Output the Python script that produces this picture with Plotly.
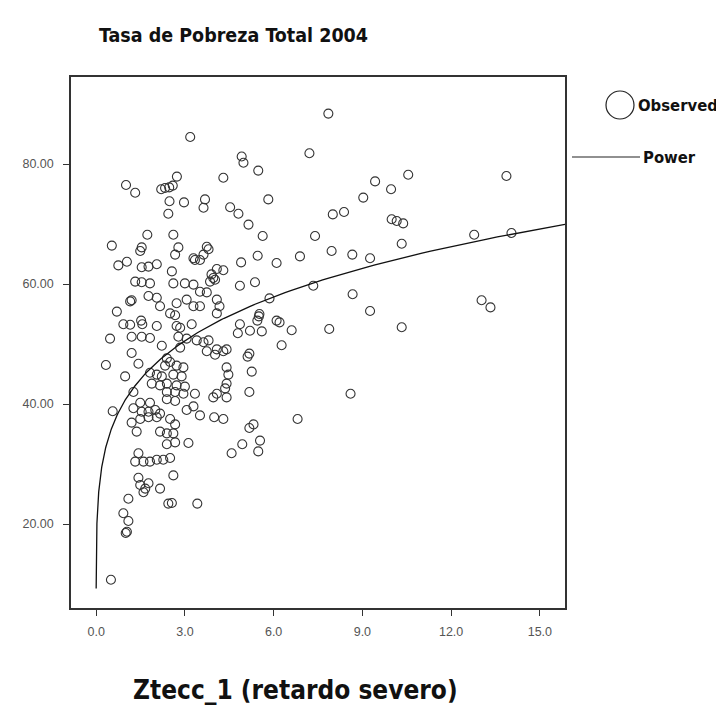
import plotly.graph_objects as go
import numpy as np

# Observed values: (Ztecc_1, Tasa de Pobreza Total 2004)
obs_x = [7.85, 3.18, 7.21, 4.92, 4.98, 5.48, 4.30, 2.73, 13.87, 10.55, 9.43, 9.97, 9.03, 5.82,
         3.68, 3.63, 2.97, 4.53, 4.81, 5.15, 8.00, 8.38, 9.99, 10.16, 10.38, 10.33, 12.78, 14.04,
         7.40, 5.63, 6.89, 6.10, 5.46, 4.90, 7.96, 8.66, 9.26, 7.34, 8.67, 9.26, 10.33, 7.88,
         13.03, 13.33, 8.60, 6.81, 6.27, 6.61, 6.20, 6.10, 5.50, 5.52, 5.45, 5.60, 5.20, 4.79,
         4.86, 5.26, 5.18, 5.12, 5.18, 5.86, 5.37, 4.86, 5.18, 5.32, 4.94, 4.58, 5.48, 5.54,
         3.99, 4.30, 3.51, 3.12, 3.42, 2.44, 2.56, 2.61, 2.16, 1.09, 0.92, 1.09, 1.04, 1.00,
         0.50, 0.56, 0.33, 0.47, 0.70, 0.53, 1.01, 1.32,
         2.20, 2.33, 2.47, 2.59, 2.48, 2.44, 1.73, 2.61, 1.54, 1.49, 2.78, 2.67, 3.74, 3.80,
         3.63, 3.29, 3.34, 3.51, 0.75, 1.04, 1.54, 1.77, 2.05, 2.56, 4.08, 4.30, 3.90, 3.96,
         1.32, 1.54, 1.82, 2.61, 3.00, 3.29, 3.85, 4.02, 3.51, 3.74, 1.77, 2.05, 1.15, 1.20,
         2.16, 2.72, 3.06, 4.08, 4.17, 3.29, 3.51, 2.50, 2.67, 4.08, 1.52, 1.56, 0.92, 1.15,
         2.05, 2.72, 2.84, 3.23, 1.20, 1.54, 1.82, 2.78, 3.06, 3.40, 3.63, 3.80, 2.22, 2.84,
         4.08, 4.30, 4.41, 3.74, 4.02, 1.20, 1.43, 2.39, 2.50, 2.33, 2.72, 2.95, 4.41, 4.47,
         0.98, 1.82, 2.05, 2.22, 2.61, 2.89, 1.88, 2.16, 2.39, 2.72, 3.00, 4.41, 4.36, 1.26,
         2.39, 2.67, 2.95, 3.34, 4.08, 4.41, 3.96, 1.49, 1.82, 2.39, 2.67, 1.26, 1.54, 1.77,
         2.00, 2.16, 3.06, 3.29, 1.20, 1.49, 1.77, 2.05, 2.50, 2.67, 1.37, 2.16, 2.39, 2.61,
         2.39, 2.67, 1.43, 1.60, 1.82, 2.05, 2.27, 2.50, 1.32, 1.43, 1.49, 1.66, 1.77, 1.60]
obs_y = [88.4, 84.5, 81.8, 81.25, 80.2, 78.9, 77.7, 77.9, 78.0, 78.2, 77.1, 75.8, 74.4, 74.1,
         74.1, 72.7, 73.6, 72.8, 71.7, 69.9, 71.6, 72.0, 70.8, 70.5, 70.1, 66.7, 68.2, 68.5,
         68.0, 68.0, 64.6, 63.5, 64.7, 63.6, 65.5, 64.9, 64.3, 59.7, 58.3, 55.5, 52.8, 52.5,
         57.3, 56.1, 41.7, 37.5, 49.8, 52.3, 53.6, 53.9, 54.6, 55.0, 53.9, 52.1, 52.2, 51.8,
         53.3, 45.4, 42.0, 47.9, 48.4, 57.6, 60.3, 59.7, 36.0, 36.6, 33.3, 31.8, 32.1, 33.9,
         37.8, 37.5, 38.1, 33.5, 23.4, 23.4, 23.5, 28.1, 25.9, 24.2, 21.8, 20.5, 18.7, 18.5,
         10.7, 38.8, 46.5, 50.9, 55.4, 66.4, 76.5, 75.2,
         75.8, 76.0, 76.1, 76.4, 73.8, 71.7, 68.2, 68.2, 66.1, 65.5, 66.1, 64.9, 66.2, 65.8,
         64.9, 64.3, 64.0, 64.0, 63.1, 63.7, 62.8, 62.9, 63.3, 62.1, 62.5, 62.3, 61.6, 61.0,
         60.4, 60.3, 60.1, 60.1, 60.1, 59.9, 60.4, 60.7, 58.7, 58.6, 58.0, 57.7, 57.1, 57.3,
         56.3, 56.8, 57.4, 57.4, 56.3, 56.3, 56.3, 55.1, 54.8, 55.1, 53.9, 53.3, 53.3, 53.2,
         53.0, 53.0, 52.7, 53.3, 51.2, 51.2, 51.0, 51.2, 50.9, 50.6, 50.3, 50.6, 49.7, 49.4,
         49.1, 48.8, 49.1, 48.8, 48.2, 48.5, 46.7, 47.6, 47.0, 46.4, 46.4, 46.1, 46.1, 44.9,
         44.6, 45.2, 44.9, 44.6, 44.9, 44.6, 43.4, 43.1, 43.4, 43.1, 42.9, 43.4, 42.6, 42.0,
         42.0, 42.0, 41.7, 41.7, 41.7, 41.1, 41.1, 40.2, 40.2, 40.8, 40.5, 39.3, 38.7, 38.7,
         39.0, 38.4, 39.0, 39.6, 36.9, 37.5, 37.8, 37.8, 37.5, 36.6, 35.4, 35.4, 35.1, 35.1,
         33.3, 33.6, 31.8, 30.4, 30.4, 30.7, 30.7, 31.0, 30.4, 27.7, 26.5, 25.9, 26.8, 25.3]

# Power fit y = a * x^b (coefficients)
power_a = 40.8
power_b = 0.195
power_x_min = 0.0005
power_x_max = 15.85

x_ticks = [0.0, 3.0, 6.0, 9.0, 12.0, 15.0]
x_tick_labels = ["0.0", "3.0", "6.0", "9.0", "12.0", "15.0"]
y_ticks = [20, 40, 60, 80]
y_tick_labels = ["20.00", "40.00", "60.00", "80.00"]

curve_x = np.geomspace(power_x_min, power_x_max, 400)
curve_y = power_a * curve_x ** power_b

fig = go.Figure()
fig.add_trace(go.Scatter(
    x=obs_x, y=obs_y, mode="markers", name="Observed",
    marker=dict(symbol="circle-open", size=9, color="#333333", line=dict(width=1.1)),
    showlegend=False))
fig.add_trace(go.Scatter(
    x=curve_x, y=curve_y, mode="lines", name="Power",
    line=dict(color="#111111", width=1.3), showlegend=False))

axis_common = dict(showline=True, linecolor="#333333", linewidth=1.5, mirror=True,
                   showgrid=False, zeroline=False, ticks="outside", ticklen=6,
                   tickcolor="#333333", tickwidth=1.2,
                   tickfont=dict(family="Liberation Sans, Arial", size=12.5, color="#555555"))

fig.update_xaxes(range=[-0.85, 15.85], tickvals=x_ticks, ticktext=x_tick_labels,
                 ticklabelstandoff=5, **axis_common)
fig.update_yaxes(range=[6, 94.5], tickvals=y_ticks, ticktext=y_tick_labels, ticklabelstandoff=7,
                 **axis_common)

# page body has an 8px margin, so the figure is placed at (8, 8)
OFF = 8
W, H = 716, 700
L, R, T, B = 63, 159, 69, 100
pw = W - L - R
ph = H - T - B


def px(xp):
    return (xp - OFF - L) / pw


def py(yp):
    return (OFF + H - B - yp) / ph


title_font = "DejaVu Sans Condensed, Liberation Sans Narrow, Arial Narrow, Liberation Sans"
ann_common = dict(xref="paper", yref="paper", showarrow=False, yanchor="middle")
fig.update_layout(
    width=W, height=H,
    margin=dict(l=L, r=R, t=T, b=B, autoexpand=False),
    paper_bgcolor="white", plot_bgcolor="white",
    annotations=[
        dict(text="<b>Tasa de Pobreza Total 2004</b>", x=px(233), y=py(35), xanchor="center",
             font=dict(family=title_font, size=19.5, color="#111111"), **ann_common),
        dict(text="<b>Ztecc_1 (retardo severo)</b>", x=px(295), y=py(690), xanchor="center",
             font=dict(family=title_font, size=26, color="#111111"), **ann_common),
        dict(text="<b>Observed</b>", x=px(636), y=py(105), xanchor="left",
             font=dict(family=title_font, size=16.5, color="#111111"), **ann_common),
        dict(text="<b>Power</b>", x=px(641), y=py(157), xanchor="left",
             font=dict(family=title_font, size=16.5, color="#111111"), **ann_common),
    ],
)

fig.add_shape(type="circle", xref="paper", yref="paper",
              x0=px(606), x1=px(634), y0=py(119), y1=py(91),
              line=dict(color="#222222", width=1.2))
fig.add_shape(type="line", xref="paper", yref="paper",
              x0=px(572), x1=px(640), y0=py(157), y1=py(157),
              line=dict(color="#222222", width=1.2))

fig.write_html("out.html")
